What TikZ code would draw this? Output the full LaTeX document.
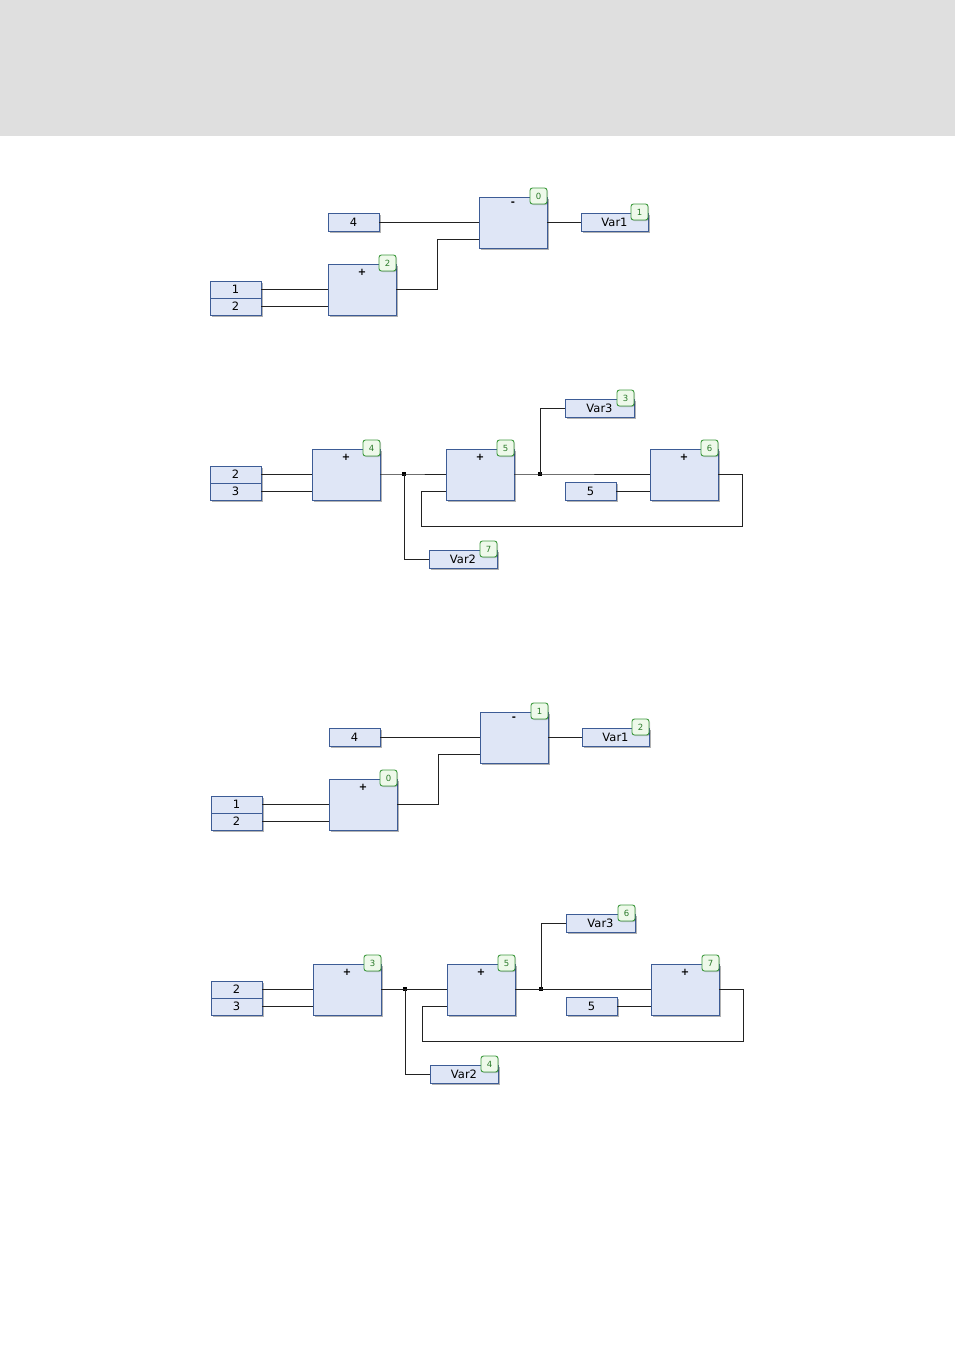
\documentclass[tikz,border=0pt]{standalone}
\usepackage{fontspec}
\setmainfont{DejaVu Sans}
\usetikzlibrary{shadows,calc}
\definecolor{hdr}{HTML}{DFDFDF}
\definecolor{bfill}{HTML}{DFE6F6}
\definecolor{bdraw}{HTML}{3D5C96}
\definecolor{gfill}{HTML}{EEF9EA}
\definecolor{gdraw}{HTML}{3E9A3E}
\definecolor{gtext}{HTML}{2A7A2A}
\definecolor{wirec}{HTML}{222222}
\tikzset{
  blk/.style={draw=bdraw, fill=bfill, line width=1pt, rectangle, inner sep=0pt, outer sep=0pt,
    anchor=north west, drop shadow={shadow xshift=2.2pt, shadow yshift=-2.2pt, fill=black, opacity=0.3}},
  fbd/.style={blk, minimum width=68pt, minimum height=51pt},
  varbox/.style={blk, minimum width=#1, minimum height=18pt, font=\fontsize{11.5}{12}\selectfont},
  varbox/.default=51pt,
  cellbox/.style={blk, minimum width=51pt, minimum height=34pt},
  celltxt/.style={inner sep=0pt, font=\fontsize{11.5}{12}\selectfont},
  optxt/.style={inner sep=0pt, font=\fontsize{10}{10}\selectfont\bfseries},
  badge/.style={draw=gdraw, fill=gfill, rounded corners=2.5pt, minimum width=17pt, minimum height=16pt,
    inner sep=0pt, outer sep=0pt, font=\fontsize{8.5}{9}\selectfont, text=gtext, line width=0.9pt, anchor=north east,
    drop shadow={shadow xshift=1pt, shadow yshift=-1pt, fill=black, opacity=0.2}},
  wire/.style={draw=wirec, line width=0.9pt},
  jdot/.style={rectangle, fill=black, minimum size=3.6pt, inner sep=0pt},
}
\newcommand\badgeat[3]{\node[badge] (#1) at ([yshift=9pt]#2.north east) {#3};}
% diagram A: prefix, shift, badge minus, badge var1, badge plus
\newcommand\diagA[5]{%
\begin{scope}[shift={(#2)}]
  \node[fbd] (#1m) at (479,197) {};
  \node[optxt] (#1mop) at ([yshift=-7pt]#1m.north) {-};
  \node[varbox] (#1c4) at (328,213) {4};
  \node[varbox=67pt] (#1v1) at (581,213) {Var1};
  \node[fbd] (#1p) at (328,264) {};
  \node[optxt] (#1pop) at ([yshift=-8pt]#1p.north) {+};
  \node[cellbox] (#1in) at (210,281) {};
  \draw[draw=bdraw, line width=1pt] (#1in.west) -- (#1in.east);
  \node[celltxt] (#1t1) at ([yshift=-8.5pt]#1in.north) {1};
  \node[celltxt] (#1t2) at ([yshift=-25.5pt]#1in.north) {2};
  \badgeat{#1bm}{#1m}{#3}
  \badgeat{#1bv}{#1v1}{#4}
  \badgeat{#1bp}{#1p}{#5}
  \coordinate (#1k) at (437,250);
  \draw[wire] (#1c4.east) -- (#1c4.east -| #1m.west);
  \draw[wire] (#1v1.west -| #1m.east) -- (#1v1.west);
  \draw[wire] ([yshift=-25pt]#1p.north east) -- ([yshift=-25pt]#1p.north east -| #1k)
     -- ([yshift=-42pt]#1m.north west -| #1k) -- ([yshift=-42pt]#1m.north west);
  \draw[wire] ([yshift=-8pt]#1in.north east) -- ([yshift=-8pt]#1in.north east -| #1p.west);
  \draw[wire] ([yshift=-25pt]#1in.north east) -- ([yshift=-25pt]#1in.north east -| #1p.west);
\end{scope}}
% diagram B: prefix, shift, badge box1, badge box2, badge var3, badge box3, badge var2
\newcommand\diagB[7]{%
\begin{scope}[shift={(#2)}]
  \node[cellbox] (#1in) at (210,466) {};
  \draw[draw=bdraw, line width=1pt] (#1in.west) -- (#1in.east);
  \node[celltxt] (#1t1) at ([yshift=-8.5pt]#1in.north) {2};
  \node[celltxt] (#1t2) at ([yshift=-25.5pt]#1in.north) {3};
  \node[fbd] (#1a) at (312,449) {};
  \node[optxt] (#1aop) at ([yshift=-8pt]#1a.north) {+};
  \node[fbd] (#1b) at (446,449) {};
  \node[optxt] (#1bop) at ([yshift=-8pt]#1b.north) {+};
  \node[fbd] (#1c) at (650,449) {};
  \node[optxt] (#1cop) at ([yshift=-8pt]#1c.north) {+};
  \node[varbox=69pt] (#1v3) at (565,399) {Var3};
  \node[varbox] (#1c5) at (565,482) {5};
  \node[varbox=68pt] (#1v2) at (429,550) {Var2};
  \badgeat{#1ba}{#1a}{#3}
  \badgeat{#1bb}{#1b}{#4}
  \badgeat{#1bv3}{#1v3}{#5}
  \badgeat{#1bc}{#1c}{#6}
  \badgeat{#1bv2}{#1v2}{#7}
  \node[jdot] (#1j1) at (404,474) {};
  \node[jdot] (#1j2) at (540,474) {};
  \coordinate (#1fr) at (742,526);
  \coordinate (#1fl) at (421,526);
  \draw[wire] ([yshift=-8pt]#1in.north east) -- ([yshift=-8pt]#1in.north east -| #1a.west);
  \draw[wire] ([yshift=-25pt]#1in.north east) -- ([yshift=-25pt]#1in.north east -| #1a.west);
  \draw[wire] (#1j1.center -| #1a.east) -- (#1j1.center) -- (#1j1.center -| #1b.west);
  \draw[wire] (#1j1.center) |- (#1v2.west);
  \draw[wire] (#1j2.center -| #1b.east) -- (#1j2.center) -- (#1j2.center -| #1c.west);
  \draw[wire] (#1j2.center) |- (#1v3.west);
  \draw[wire] (#1c5.east) -- (#1c5.east -| #1c.west);
  \draw[wire] (#1j2.center -| #1c.east) -| (#1fr) -- (#1fl) |- (#1c5.east -| #1b.west);
\end{scope}}
\begin{document}
\begin{tikzpicture}[x=1pt,y=-1pt]
  \useasboundingbox (0,0) rectangle (955,1350);
  \fill[hdr] (0,0) rectangle (955,136);
  \diagA{a}{0,0}{0}{1}{2}
  \diagB{b}{0,0}{4}{5}{3}{6}{7}
  \diagA{c}{1,515}{1}{2}{0}
  \diagB{d}{1,515}{3}{5}{6}{7}{4}
\end{tikzpicture}
\end{document}
